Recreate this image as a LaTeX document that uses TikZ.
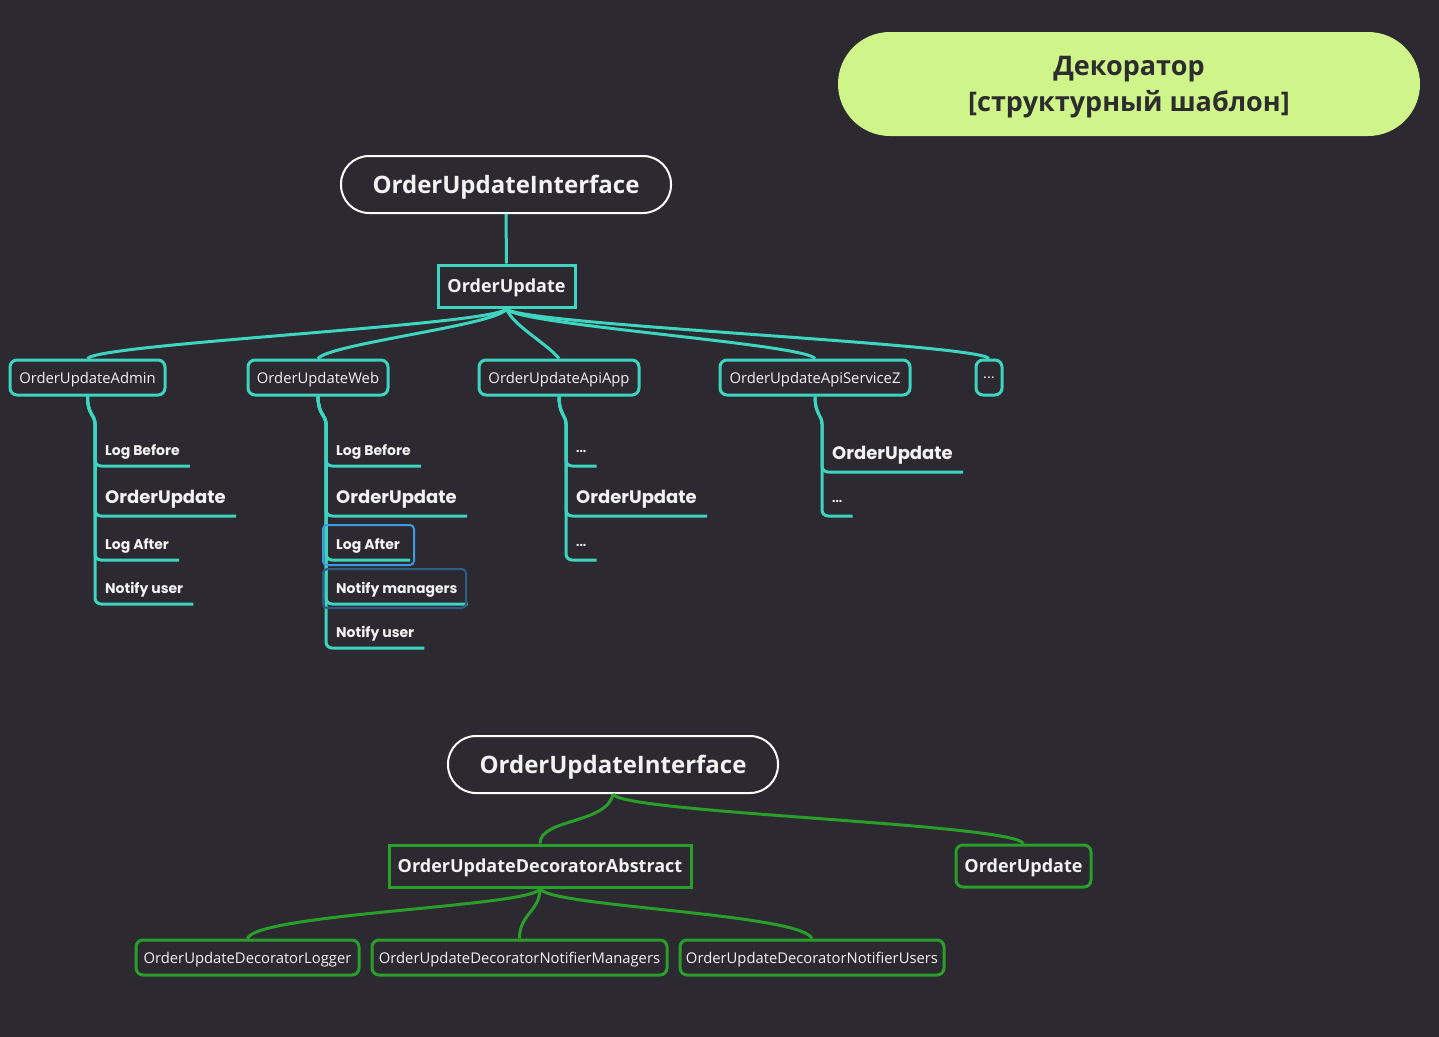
\documentclass[tikz,border=0pt]{standalone}
\usepackage{fontspec}
\setmainfont{Open Sans}
\newfontfamily\popfont{Poppins}
\usetikzlibrary{calc}
\definecolor{bgc}{HTML}{2C2931}
\definecolor{mmteal}{HTML}{3ED5C0}
\definecolor{mmgreen}{HTML}{2A9E2A}
\definecolor{txtc}{HTML}{F2F2F2}
\definecolor{titlefill}{HTML}{CFF58A}
\definecolor{titletext}{HTML}{2D2D2D}
\definecolor{selA}{HTML}{3C9BE0}
\definecolor{selB}{HTML}{2C5D86}
\tikzset{
  ifacebox/.style={draw=white, line width=2pt, fill=bgc, text=txtc, rounded corners=28pt,
    minimum width=330pt, minimum height=57pt, inner sep=0pt, text depth=0pt,
    font=\bfseries\fontsize{24}{28}\selectfont},
  rootbox/.style={draw=#1, line width=3pt, fill=bgc, text=txtc, inner sep=0pt, text depth=0pt,
    minimum height=42pt, font=\bfseries\fontsize{18}{22}\selectfont},
  childbox/.style={draw=#1, line width=3pt, fill=bgc, text=txtc, inner sep=0pt, text depth=0pt,
    rounded corners=7pt, minimum height=35pt, font=\fontsize{14.8}{18}\selectfont},
  itemtxt/.style={anchor=south west, inner xsep=10pt, inner ysep=0pt, text=txtc, text depth=0pt,
    minimum height=32pt, font=\popfont\bfseries\fontsize{14}{16}\selectfont},
  bigitem/.style={itemtxt, minimum height=38pt, font=\popfont\bfseries\fontsize{18}{22}\selectfont},
  dotitem/.style={itemtxt, minimum height=28pt, font=\popfont\bfseries\fontsize{12}{14}\selectfont},
  tconn/.style={draw=mmteal, line width=3pt},
  gconn/.style={draw=mmgreen, line width=3pt},
  branch/.style={draw=mmteal, line width=3pt, rounded corners=6pt},
}
\begin{document}
\begin{tikzpicture}[x=1pt, y=-1pt]
\useasboundingbox (0,0) rectangle (1439,1036);
\fill[bgc] (-3,-3) rectangle (1442,1039);

% title
\node[fill=titlefill, text=titletext, rounded corners=52pt, minimum width=582pt, minimum height=104pt,
  inner sep=0pt, align=center, text depth=0pt, font=\bfseries\fontsize{27}{36}\selectfont] (title) at (1129,84)
  {Декоратор\\{[}структурный шаблон{]}};

% ---------- top tree ----------
\node[ifacebox] (iface) at (506,184.5) {OrderUpdateInterface};
\node[rootbox=mmteal, minimum width=137pt] (root) at (506.5,286) {OrderUpdate};
\draw[tconn] (iface.south) -- (root.north);

\node[childbox=mmteal, minimum width=155pt] (admin) at (87.5,377.5) {OrderUpdateAdmin};
\node[childbox=mmteal, minimum width=140pt] (web) at (318,377.5) {OrderUpdateWeb};
\node[childbox=mmteal, minimum width=160pt] (apiapp) at (559,377.5) {OrderUpdateApiApp};
\node[childbox=mmteal, minimum width=190pt] (apiz) at (815,377.5) {OrderUpdateApiServiceZ};
\node[childbox=mmteal, minimum width=26pt] (dots) at (989,377.5) {...};

\foreach \c/\s in {admin/-1, web/-1, apiapp/1, apiz/1, dots/1}
  \draw[tconn] (root.south) .. controls +(\s*5,16) and +(-\s*12,-15) .. (\c.north);

% admin items
\node[itemtxt] (a1) at (95,466) {Log Before};
\node[bigitem] (a2) at (95,516) {OrderUpdate};
\node[itemtxt] (a3) at (95,560) {Log After};
\node[itemtxt] (a4) at (95,604) {Notify user};
\foreach \i in {a1,a2,a3,a4}
  \draw[branch] (admin.south) .. controls +(0,18) and +(0,-15) .. (\i.south west |- 0,430) -- (\i.south west) -- (\i.south east);

% web items
\node[itemtxt] (w1) at (326,466) {Log Before};
\node[bigitem] (w2) at (326,516) {OrderUpdate};
\node[itemtxt] (w3) at (326,560) {Log After};
\node[itemtxt] (w4) at (326,604) {Notify managers};
\node[itemtxt] (w5) at (326,648) {Notify user};
\foreach \i in {w1,w2,w3,w4,w5}
  \draw[branch] (web.south) .. controls +(0,18) and +(0,-15) .. (\i.south west |- 0,430) -- (\i.south west) -- (\i.south east);
\draw[selA, line width=2pt, rounded corners=4pt] (323,525) rectangle (414,565);
\draw[selB, line width=2pt, rounded corners=4pt] (323,569) rectangle (466,608);

% apiapp items
\node[dotitem] (p1) at (566,466) {...};
\node[bigitem] (p2) at (566,516) {OrderUpdate};
\node[dotitem] (p3) at (566,560) {...};
\foreach \i in {p1,p2,p3}
  \draw[branch] (apiapp.south) .. controls +(0,18) and +(0,-15) .. (\i.south west |- 0,430) -- (\i.south west) -- (\i.south east);

% apiz items
\node[bigitem] (z1) at (822,472) {OrderUpdate};
\node[dotitem] (z2) at (822,516) {...};
\foreach \i in {z1,z2}
  \draw[branch] (apiz.south) .. controls +(0,18) and +(0,-15) .. (\i.south west |- 0,430) -- (\i.south west) -- (\i.south east);

% ---------- bottom tree ----------
\node[ifacebox] (iface2) at (613,764.5) {OrderUpdateInterface};
\node[rootbox=mmgreen, minimum width=302pt] (abs) at (540,866) {OrderUpdateDecoratorAbstract};
\node[rootbox=mmgreen, minimum width=135pt, rounded corners=7pt] (ou) at (1023.5,866) {OrderUpdate};
\node[childbox=mmgreen, minimum width=223pt] (lg) at (247.5,957.5) {OrderUpdateDecoratorLogger};
\node[childbox=mmgreen, minimum width=295pt] (nm) at (519.5,957.5) {OrderUpdateDecoratorNotifierManagers};
\node[childbox=mmgreen, minimum width=264pt] (nu) at (812,957.5) {OrderUpdateDecoratorNotifierUsers};

\draw[gconn] (iface2.south) .. controls +(-6,30) and +(0,-25) .. (abs.north);
\draw[gconn] (iface2.south) .. controls +(7,19) and +(-12,-20) .. (ou.north);
\draw[gconn] (abs.south) .. controls +(-4,18) and +(8,-25) .. (lg.north);
\draw[gconn] (abs.south) .. controls +(0,23) and +(0,-25) .. (nm.north);
\draw[gconn] (abs.south) .. controls +(6,18) and +(-11,-25) .. (nu.north);
\end{tikzpicture}
\end{document}
